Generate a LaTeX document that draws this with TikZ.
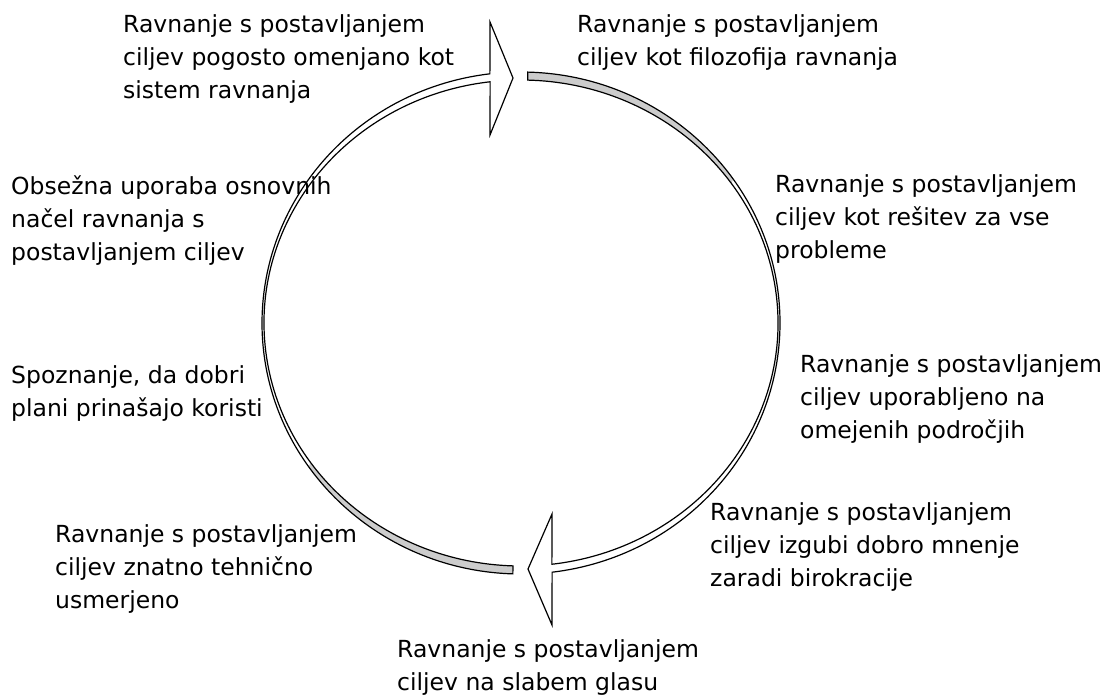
\documentclass[tikz,border=0pt]{standalone}
\usepackage{fontspec}
\setmainfont{DejaVu Sans}
\tikzset{
  every node/.style={
    font=\fontsize{23.5}{33}\selectfont
  },
  stage/.style={
    align=left,
    anchor=base west,
    inner sep=0pt
  },
  band/.style={
    draw=black,
    line width=1.2pt
  },
  band back/.style={
    fill=gray!40
  }
}
\begin{document}
\begin{tikzpicture}[x=1pt,y=1pt]
    \useasboundingbox (0,0) rectangle (1110,-697);
    \coordinate (c) at (521,-323);
    % shaded tails of the two bands
    \fill[band back] ([shift={(c)}]268.2:259 and 251)
      arc[start angle=268.2, end angle=215, x radius=259, y radius=251]
      -- ([shift={(c)}]215:257 and 243)
      arc[start angle=215, end angle=268.2, x radius=257, y radius=243] -- cycle;
    \fill[band back] ([shift={(c)}]88.5:259 and 251)
      arc[start angle=88.5, end angle=35, x radius=259, y radius=251]
      -- ([shift={(c)}]35:257 and 243)
      arc[start angle=35, end angle=88.5, x radius=257, y radius=243] -- cycle;
    % left band, head at the top
    \draw[band] ([shift={(c)}]268.2:259 and 251)
      arc[start angle=268.2, end angle=96.9, x radius=259, y radius=251]
      -- (490,-22) -- (513,-78) -- (490,-135)
      -- ([shift={(c)}]96.9:257 and 243)
      arc[start angle=96.9, end angle=268.2, x radius=257, y radius=243] -- cycle;
    % right band, head at the bottom
    \draw[band] ([shift={(c)}]88.5:259 and 251)
      arc[start angle=88.5, end angle=-83.1, x radius=259, y radius=251]
      -- (552,-625) -- (528,-569) -- (552,-514)
      -- ([shift={(c)}]-83.1:257 and 243)
      arc[start angle=-83.1, end angle=88.5, x radius=257, y radius=243] -- cycle;
    % stages (placed at the baseline of their last line)
    \node[stage] (tl) at (123,-98) {Ravnanje s postavljanjem\\ciljev pogosto omenjano kot\\sistem ravnanja};
    \node[stage] (tr) at (577,-65) {Ravnanje s postavljanjem\\ciljev kot filozofija ravnanja};
    \node[stage] (r1) at (775,-258) {Ravnanje s postavljanjem\\ciljev kot rešitev za vse\\probleme};
    \node[stage] (r2) at (800,-438) {Ravnanje s postavljanjem\\ciljev uporabljeno na\\omejenih področjih};
    \node[stage] (r3) at (710,-586) {Ravnanje s postavljanjem\\ciljev izgubi dobro mnenje\\zaradi birokracije};
    \node[stage] (bt) at (397,-690) {Ravnanje s postavljanjem\\ciljev na slabem glasu};
    \node[stage] (l3) at (55,-608) {Ravnanje s postavljanjem\\ciljev znatno tehnično\\usmerjeno};
    \node[stage] (l2) at (11,-416) {Spoznanje, da dobri\\plani prinašajo koristi};
    \node[stage] (l1) at (11,-260) {Obsežna uporaba osnovnih\\načel ravnanja s\\postavljanjem ciljev};
\end{tikzpicture}
\end{document}
